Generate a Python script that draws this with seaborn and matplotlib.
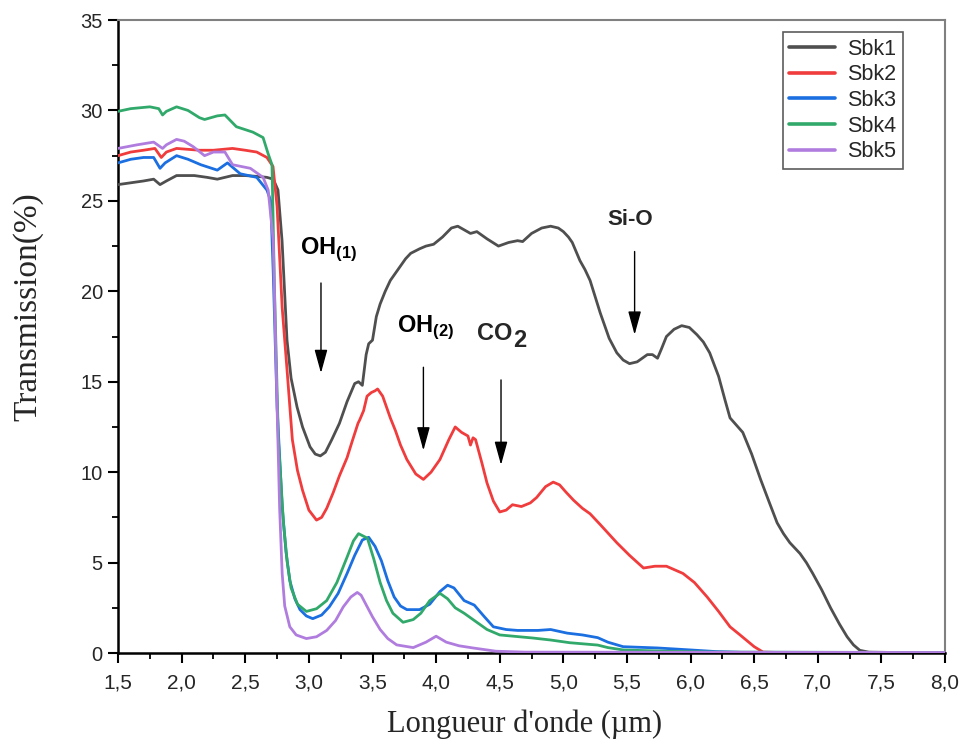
import matplotlib
matplotlib.use("Agg")
import matplotlib.pyplot as plt
import seaborn as sns
import pandas as pd
from matplotlib.ticker import FixedLocator, MultipleLocator

# ---------------- data ----------------
sbk1_x = [1.50, 1.60, 1.70, 1.78, 1.83, 1.88, 1.96, 2.10, 2.20, 2.28, 2.40, 2.50, 2.60, 2.67,
          2.72, 2.757, 2.789, 2.828, 2.86, 2.907, 2.95, 3.009, 3.05, 3.09, 3.13, 3.18, 3.24,
          3.30, 3.36, 3.39, 3.42, 3.45, 3.47, 3.50, 3.53, 3.56, 3.60, 3.64, 3.68, 3.72, 3.76,
          3.80, 3.87, 3.92, 3.98, 4.05, 4.12, 4.17, 4.22, 4.27, 4.32, 4.40, 4.49, 4.57, 4.64,
          4.68, 4.75, 4.83, 4.90, 4.96, 5.00, 5.04, 5.07, 5.10, 5.13, 5.17, 5.21, 5.25, 5.29,
          5.33, 5.36, 5.39, 5.42, 5.47, 5.52, 5.58, 5.66, 5.70, 5.74, 5.77, 5.81, 5.87, 5.93,
          5.99, 6.05, 6.10, 6.15, 6.22, 6.27, 6.31, 6.36, 6.41, 6.48, 6.55, 6.62, 6.68, 6.73,
          6.78, 6.86, 6.91, 6.96, 7.03, 7.10, 7.17, 7.23, 7.28, 7.33, 7.40, 7.60, 8.00]
sbk1_y = [25.9, 26.0, 26.1, 26.2, 25.9, 26.1, 26.4, 26.4, 26.3, 26.2, 26.4, 26.4, 26.35, 26.3,
          26.2, 25.6, 22.8, 17.3, 15.2, 13.6, 12.5, 11.4, 11.0, 10.9, 11.1, 11.8, 12.7,
          13.9, 14.9, 15.0, 14.8, 16.5, 17.1, 17.3, 18.6, 19.3, 20.0, 20.6, 21.0, 21.4, 21.8,
          22.1, 22.35, 22.5, 22.6, 23.0, 23.5, 23.6, 23.4, 23.2, 23.3, 22.9, 22.5, 22.7, 22.8,
          22.75, 23.2, 23.5, 23.6, 23.5, 23.3, 23.0, 22.7, 22.2, 21.7, 21.2, 20.6, 19.7, 18.8,
          18.0, 17.4, 17.0, 16.6, 16.2, 16.0, 16.1, 16.5, 16.5, 16.3, 16.8, 17.5, 17.9, 18.1,
          18.0, 17.6, 17.2, 16.6, 15.3, 14.0, 13.0, 12.6, 12.2, 11.0, 9.6, 8.3, 7.2, 6.6,
          6.1, 5.5, 5.0, 4.4, 3.5, 2.5, 1.6, 0.9, 0.45, 0.15, 0.05, 0.03, 0.03]

sbk2_x = [1.50, 1.60, 1.70, 1.79, 1.84, 1.88, 1.96, 2.14, 2.25, 2.40, 2.50, 2.59, 2.67, 2.718,
          2.75, 2.79, 2.83, 2.87, 2.91, 2.95, 3.00, 3.06, 3.10, 3.14, 3.19, 3.24, 3.30, 3.34,
          3.386, 3.40, 3.43, 3.457, 3.49, 3.52, 3.54, 3.58, 3.61, 3.64, 3.68, 3.72, 3.77, 3.84,
          3.90, 3.96, 4.03, 4.10, 4.15, 4.20, 4.25, 4.27, 4.29, 4.31, 4.36, 4.40, 4.45, 4.50,
          4.55, 4.60, 4.67, 4.74, 4.79, 4.86, 4.92, 4.97, 5.02, 5.08, 5.15, 5.21, 5.29, 5.42,
          5.52, 5.63, 5.72, 5.81, 5.94, 6.03, 6.13, 6.22, 6.31, 6.38, 6.44, 6.50, 6.57, 6.70,
          8.00]
sbk2_y = [27.5, 27.7, 27.8, 27.9, 27.4, 27.7, 27.9, 27.8, 27.8, 27.9, 27.8, 27.7, 27.4, 26.9,
          24.7, 19.1, 15.5, 11.8, 10.1, 9.0, 7.9, 7.35, 7.5, 8.0, 8.85, 9.8, 10.8, 11.7,
          12.7, 12.9, 13.4, 14.2, 14.4, 14.5, 14.6, 14.2, 13.6, 13.0, 12.3, 11.5, 10.7, 9.9,
          9.6, 10.0, 10.7, 11.8, 12.5, 12.2, 12.0, 11.5, 11.9, 11.8, 10.5, 9.4, 8.4, 7.8,
          7.9, 8.2, 8.1, 8.3, 8.6, 9.2, 9.45, 9.3, 8.9, 8.45, 8.0, 7.7, 7.1, 6.1,
          5.4, 4.7, 4.8, 4.8, 4.4, 3.9, 3.1, 2.3, 1.45, 1.05, 0.7, 0.35, 0.05, 0.03,
          0.03]

sbk3_x = [1.50, 1.60, 1.70, 1.78, 1.83, 1.87, 1.96, 2.05, 2.15, 2.28, 2.36, 2.46, 2.59, 2.67,
          2.70, 2.72, 2.75, 2.79, 2.82, 2.85, 2.89, 2.93, 2.98, 3.03, 3.10, 3.16, 3.23, 3.30,
          3.36, 3.42, 3.47, 3.52, 3.57, 3.62, 3.67, 3.72, 3.77, 3.87, 3.95, 4.03, 4.09, 4.14,
          4.22, 4.30, 4.38, 4.45, 4.55, 4.64, 4.80, 4.90, 5.03, 5.15, 5.27, 5.35, 5.47, 5.74,
          6.00, 6.20, 6.40, 8.00]
sbk3_y = [27.1, 27.3, 27.4, 27.4, 26.8, 27.1, 27.5, 27.3, 27.0, 26.7, 27.1, 26.5, 26.3, 25.6,
          25.0, 21.0, 13.6, 8.1, 5.6, 4.0, 3.0, 2.4, 2.05, 1.9, 2.1, 2.55, 3.3, 4.4,
          5.4, 6.25, 6.4, 5.9, 5.1, 4.0, 3.1, 2.6, 2.4, 2.4, 2.7, 3.4, 3.75, 3.6,
          2.9, 2.65, 2.0, 1.45, 1.3, 1.25, 1.25, 1.3, 1.1, 1.0, 0.85, 0.6, 0.35, 0.28,
          0.17, 0.08, 0.04, 0.03]

sbk4_x = [1.50, 1.60, 1.75, 1.82, 1.85, 1.88, 1.96, 2.05, 2.14, 2.18, 2.28, 2.34, 2.43, 2.56,
          2.64, 2.68, 2.71, 2.73, 2.76, 2.80, 2.83, 2.86, 2.91, 2.98, 3.06, 3.14, 3.22, 3.30,
          3.35, 3.39, 3.46, 3.51, 3.56, 3.61, 3.66, 3.74, 3.82, 3.88, 3.95, 4.03, 4.09, 4.15,
          4.22, 4.30, 4.40, 4.50, 4.76, 4.90, 5.05, 5.27, 5.35, 5.47, 5.80, 6.20, 8.00]
sbk4_y = [29.95, 30.1, 30.2, 30.1, 29.75, 29.95, 30.2, 30.0, 29.6, 29.5, 29.7, 29.75, 29.1, 28.8,
          28.5, 27.6, 27.0, 20.0, 11.8, 7.2, 5.0, 3.6, 2.7, 2.3, 2.45, 2.9, 3.9, 5.3,
          6.2, 6.6, 6.35, 5.2, 3.9, 2.9, 2.2, 1.7, 1.85, 2.2, 2.9, 3.3, 3.0, 2.5,
          2.2, 1.8, 1.3, 1.0, 0.83, 0.72, 0.57, 0.44, 0.3, 0.17, 0.1, 0.05, 0.03]

sbk5_x = [1.50, 1.65, 1.78, 1.85, 1.88, 1.96, 2.02, 2.09, 2.18, 2.25, 2.34, 2.40, 2.54, 2.64,
          2.68, 2.72, 2.75, 2.77, 2.79, 2.81, 2.85, 2.90, 2.98, 3.06, 3.14, 3.21, 3.27, 3.33,
          3.38, 3.41, 3.44, 3.50, 3.56, 3.62, 3.69, 3.82, 3.92, 4.00, 4.08, 4.18, 4.29, 4.47,
          4.70, 8.00]
sbk5_y = [27.9, 28.1, 28.25, 27.9, 28.1, 28.4, 28.3, 28.0, 27.5, 27.7, 27.7, 27.0, 26.8, 26.3,
          25.6, 22.8, 13.6, 8.0, 4.4, 2.6, 1.45, 1.0, 0.8, 0.9, 1.25, 1.8, 2.55, 3.1,
          3.35, 3.2, 2.8, 2.0, 1.3, 0.8, 0.45, 0.3, 0.6, 0.93, 0.6, 0.4, 0.28, 0.1,
          0.05, 0.03]

series_names = ["Sbk1", "Sbk2", "Sbk3", "Sbk4", "Sbk5"]
series_colors = ["#4f4f4f", "#f03c3c", "#1b6fe0", "#31a96b", "#b07ddf"]

x_ticks = [1.5, 2.0, 2.5, 3.0, 3.5, 4.0, 4.5, 5.0, 5.5, 6.0, 6.5, 7.0, 7.5, 8.0]
x_tick_labels = ["1,5", "2,0", "2,5", "3,0", "3,5", "4,0", "4,5", "5,0", "5,5", "6,0",
                 "6,5", "7,0", "7,5", "8,0"]
y_ticks = [0, 5, 10, 15, 20, 25, 30, 35]

# annotation labels
ann_labels = ["OH", "OH", "CO", "Si-O"]
ann_subs = ["(1)", "(2)", "2", ""]
ann_text_x = [2.93, 3.69, 4.32, 5.343]
ann_text_y = [22.1, 17.75, 17.3, 23.67]
ann_arrow_x = [3.095, 3.90, 4.51, 5.56]
ann_arrow_top = [20.46, 15.8, 15.1, 22.2]
ann_arrow_tip = [15.48, 11.2, 10.4, 17.6]

# ---------------- build long table ----------------
frames = []
for name, xs, ys in zip(series_names,
                        [sbk1_x, sbk2_x, sbk3_x, sbk4_x, sbk5_x],
                        [sbk1_y, sbk2_y, sbk3_y, sbk4_y, sbk5_y]):
    frames.append(pd.DataFrame({"x": xs, "y": ys, "s": name}))
df = pd.concat(frames, ignore_index=True)

sns.set_style("ticks")
plt.rcParams["font.family"] = ["Liberation Sans", "DejaVu Sans"]
plt.rcParams["mathtext.fontset"] = "custom"
plt.rcParams["mathtext.bf"] = "Liberation Sans:bold"
plt.rcParams["mathtext.rm"] = "Liberation Sans"

fig = plt.figure(figsize=(9.62, 7.47), dpi=100)
ax = fig.add_axes([0.1227, 0.1258, 0.8597, 0.8474])

sns.lineplot(data=df, x="x", y="y", hue="s", hue_order=series_names,
             palette=dict(zip(series_names, series_colors)), linewidth=2.0,
             estimator=None, sort=True, ax=ax, zorder=3)

ax.set_xlim(1.5, 8.0)
ax.set_ylim(0, 35)
ax.xaxis.set_major_locator(FixedLocator(x_ticks))
ax.set_xticklabels(x_tick_labels)
ax.xaxis.set_minor_locator(MultipleLocator(0.25))
ax.yaxis.set_major_locator(FixedLocator(y_ticks))
ax.yaxis.set_minor_locator(MultipleLocator(2.5))

ax.tick_params(axis="both", which="major", direction="out", length=7, width=1.5, color="black")
ax.tick_params(axis="both", which="minor", direction="out", length=4, width=1.3, color="black")
ax.tick_params(axis="y", labelsize=14.5, pad=4)
ax.tick_params(axis="x", labelsize=15, pad=8)
for lab in ax.get_xticklabels():
    lab.set_family(["Liberation Sans Narrow", "DejaVu Sans Condensed", "Liberation Sans"])

for side in ["left", "bottom"]:
    ax.spines[side].set_color("black")
    ax.spines[side].set_linewidth(1.8)
for side in ["top", "right"]:
    ax.spines[side].set_visible(True)
    ax.spines[side].set_color("#808080")
    ax.spines[side].set_linewidth(1.5)

ax.set_xlabel("Longueur d'onde (µm)", family=["Liberation Serif", "DejaVu Serif"],
              fontsize=22)
ax.set_ylabel("Transmission(%)", family=["Liberation Serif", "DejaVu Serif"],
              fontsize=24)
ax.xaxis.set_label_coords(0.492, -0.09)
ax.yaxis.set_label_coords(-0.09, 0.548)

# annotations
for lab, sub, tx, ty, axx, atop, atip in zip(ann_labels, ann_subs, ann_text_x, ann_text_y,
                                              ann_arrow_x, ann_arrow_top, ann_arrow_tip):
    if sub in ("(1)", "(2)"):
        s = r"$\mathbf{" + lab + r"}_{\mathbf{" + sub + r"}}$"
        ax.text(tx, ty, s, fontsize=17, ha="left", va="baseline", color="black")
    elif sub == "2":
        ax.text(tx, ty, lab, fontsize=17, fontweight="bold", ha="left", va="baseline")
        ax.annotate("2", xy=(tx, ty), xycoords="data", xytext=(26, -5),
                    textcoords="offset points", fontsize=17, fontweight="bold",
                    ha="left", va="baseline")
    else:
        ax.text(tx, ty, lab, fontsize=16, fontweight="bold", ha="left", va="baseline")
    ax.annotate("", xy=(axx, atip), xytext=(axx, atop),
                arrowprops=dict(arrowstyle="-|>,head_width=0.22,head_length=0.8",
                                color="black", lw=1.0, shrinkA=0, shrinkB=0,
                                mutation_scale=18))

handles, labels = ax.get_legend_handles_labels()
leg = ax.legend(handles, labels, loc="upper left", bbox_to_anchor=(0.804, 0.981),
                borderaxespad=0, frameon=True, fancybox=False, edgecolor="#333333",
                fontsize=15.5, labelspacing=0.22, handlelength=2.1, handletextpad=0.6,
                borderpad=0.3)
leg.get_frame().set_linewidth(1.2)
for h in leg.get_lines():
    h.set_linewidth(2.6)

fig.savefig("out.png", dpi=100)
